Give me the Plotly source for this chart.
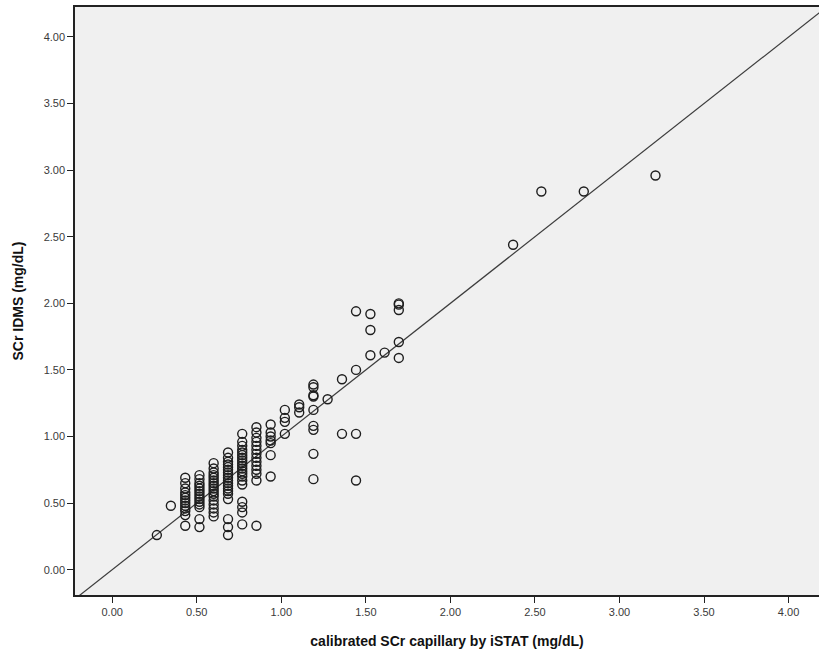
import plotly.graph_objects as go

# calibrated SCr capillary by iSTAT (mg/dL) -> column x values
col_x = [0.264, 0.347, 0.432, 0.516, 0.600, 0.685, 0.769, 0.853, 0.937,
         1.021, 1.106, 1.190, 1.274, 1.359, 1.442, 1.527, 1.611, 1.695,
         2.371, 2.538, 2.789, 3.213]

# SCr IDMS (mg/dL) values for each column
col_y = [
    [0.26],
    [0.48],
    [0.69, 0.65, 0.61, 0.58, 0.56, 0.54, 0.52, 0.50, 0.48, 0.46, 0.44, 0.41, 0.33],
    [0.71, 0.68, 0.65, 0.63, 0.61, 0.59, 0.57, 0.55, 0.53, 0.51, 0.49, 0.47, 0.38, 0.32],
    [0.80, 0.76, 0.73, 0.71, 0.69, 0.67, 0.65, 0.63, 0.61, 0.59, 0.57, 0.55, 0.52, 0.49, 0.46, 0.43, 0.40],
    [0.88, 0.84, 0.81, 0.79, 0.77, 0.75, 0.73, 0.71, 0.69, 0.67, 0.65, 0.63, 0.61, 0.59, 0.57, 0.53, 0.38, 0.32, 0.26],
    [1.02, 0.96, 0.93, 0.90, 0.88, 0.86, 0.84, 0.82, 0.80, 0.78, 0.76, 0.74, 0.72, 0.70, 0.67, 0.64, 0.51, 0.47, 0.43, 0.34],
    [1.07, 1.03, 0.99, 0.96, 0.93, 0.90, 0.87, 0.84, 0.81, 0.78, 0.75, 0.72, 0.67, 0.33],
    [1.09, 1.03, 1.00, 0.97, 0.95, 0.86, 0.70],
    [1.20, 1.14, 1.11, 1.02],
    [1.24, 1.22, 1.18],
    [1.39, 1.37, 1.31, 1.30, 1.20, 1.08, 1.05, 0.87, 0.68],
    [1.28],
    [1.43, 1.02],
    [1.94, 1.50, 1.02, 0.67],
    [1.92, 1.80, 1.61],
    [1.63],
    [2.00, 1.99, 1.95, 1.71, 1.59],
    [2.44],
    [2.84],
    [2.84],
    [2.96],
]

tick_vals = [0.0, 0.5, 1.0, 1.5, 2.0, 2.5, 3.0, 3.5, 4.0]
identity_ends = [-0.5, 4.6]

x_istat = []
y_idms = []
for cx, ys in zip(col_x, col_y):
    for yv in ys:
        x_istat.append(cx)
        y_idms.append(yv)

fig = go.Figure()
fig.add_trace(go.Scatter(
    x=identity_ends, y=identity_ends, mode="lines",
    line=dict(color="#3c3c3c", width=1.2), showlegend=False, hoverinfo="skip"))
fig.add_trace(go.Scatter(
    x=x_istat, y=y_idms, mode="markers",
    marker=dict(symbol="circle-open", size=9, color="#1e1e1e",
                line=dict(width=1.4, color="#1e1e1e")),
    showlegend=False))

font_tick = dict(family="Liberation Sans, Arial, sans-serif", size=11, color="#3a3a3a")
axis_common = dict(
    tickvals=tick_vals, tickformat=".2f", ticks="outside", ticklen=6,
    tickcolor="#222222", tickwidth=1, showgrid=False, zeroline=False,
    showline=True, linecolor="#222222", linewidth=1.5, tickfont=font_tick)

fig.update_layout(
    width=819, height=661,
    margin=dict(l=75, r=0, t=7, b=66),
    paper_bgcolor="white", plot_bgcolor="#f0f0f0",
    xaxis=dict(range=[-0.22, 4.18], mirror=True,
               title=dict(text="<b>calibrated SCr capillary by iSTAT (mg/dL)</b>",
                          font=dict(family="Liberation Sans, Arial, sans-serif", size=14, color="#111111"),
                          standoff=19),
               **axis_common),
    yaxis=dict(range=[-0.19, 4.225],
               title=dict(text="<b>SCr IDMS (mg/dL)</b>",
                          font=dict(family="Liberation Sans, Arial, sans-serif", size=14, color="#111111"),
                          standoff=17),
               **axis_common),
)

fig.write_html("out.html")
